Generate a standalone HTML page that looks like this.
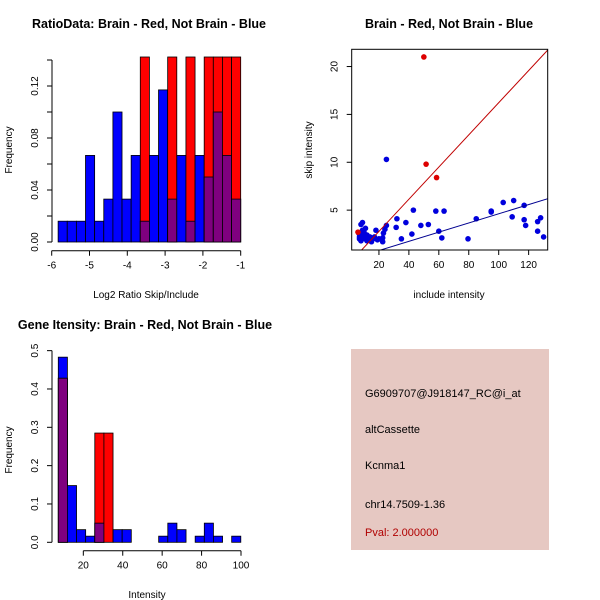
<!DOCTYPE html>
<html><head><meta charset="utf-8"><style>
html,body{margin:0;padding:0;background:#fff;}
svg{display:block;font-family:"Liberation Sans",sans-serif;}
</style></head><body>
<svg id="s" width="600" height="600" xmlns="http://www.w3.org/2000/svg">
<text x="149" y="28" font-size="12.5" font-weight="bold" text-anchor="middle">RatioData: Brain - Red, Not Brain - Blue</text>
<text x="146" y="298" font-size="10" text-anchor="middle">Log2 Ratio Skip/Include</text>
<text transform="translate(12,150) rotate(-90)" font-size="10" text-anchor="middle">Frequency</text>
<text x="449" y="28" font-size="12.5" font-weight="bold" text-anchor="middle">Brain - Red, Not Brain - Blue</text>
<text x="449" y="298" font-size="10" text-anchor="middle">include intensity</text>
<text transform="translate(312,150) rotate(-90)" font-size="10" text-anchor="middle">skip intensity</text>
<text x="145" y="329" font-size="12.5" font-weight="bold" text-anchor="middle">Gene Itensity: Brain - Red, Not Brain - Blue</text>
<text x="147" y="598" font-size="10" text-anchor="middle">Intensity</text>
<text transform="translate(12,450) rotate(-90)" font-size="10" text-anchor="middle">Frequency</text>
<rect x="351" y="349" width="198" height="201" fill="#E6C8C2"/>
<text x="365" y="397" font-size="11">G6909707@J918147_RC@i_at</text>
<text x="365" y="433" font-size="11">altCassette</text>
<text x="365" y="469" font-size="11">Kcnma1</text>
<text x="365" y="508" font-size="11">chr14.7509-1.36</text>
<text x="365" y="536" font-size="11" fill="#B00000">Pval: 2.000000</text>
<g id="g1"></g><g id="g2"></g><g id="g3"></g>
</svg>
<script>
// Ratio histogram data
const ratioBinStart = -5.83, ratioBinWidth = 0.2415;
const ratioBlue = [0.016,0.016,0.016,0.0666,0.016,0.033,0.10,0.033,0.0666,0.016,0.0666,0.117,0.033,0.0666,0.016,0.0666,0.05,0.10,0.0666,0.033];
const ratioRed  = [0,0,0,0,0,0,0,0,0,0.143,0,0,0.143,0,0.143,0,0.143,0.143,0.143,0.143];
const ratioXTicks = [-6,-5,-4,-3,-2,-1];
const ratioYTicks = [0,0.02,0.04,0.06,0.08,0.10,0.12,0.14];
const ratioYLabels = ["0.00","","0.04","","0.08","","0.12",""];
// Intensity histogram data
const intBinStart = 7.3, intBinWidth = 4.63;
const intBlue = [0.483,0.148,0.033,0.016,0.05,0,0.033,0.033,0,0,0,0.016,0.05,0.033,0,0.016,0.05,0.016,0,0.016];
const intRed  = [0.428,0,0,0,0.285,0.285,0,0,0,0,0,0,0,0,0,0,0,0,0,0];
const intXTicks = [20,40,60,80,100];
const intYTicks = [0,0.1,0.2,0.3,0.4,0.5];
const intYLabels = ["0.0","0.1","0.2","0.3","0.4","0.5"];
// Scatter data
const blueX = [25,32,31.5,38,43,42,35,48,53,58,63.5,60,62,79.5,85,95,95,103,110,109,117,117,118,126,128,126,130,25,24,23,22.5,22.5,18,17,16,15,14,13,12,11,10,9,8,9,8,7,7,8,9,10,6.5,11,12,20,19];
const blueY = [10.3,4.1,3.2,3.7,5,2.5,2,3.4,3.5,4.9,4.9,2.8,2.1,2,4.1,4.8,4.9,5.8,6,4.3,5.5,4,3.4,3.8,4.2,2.8,2.2,3.4,3,2.6,2.1,1.7,2.9,2.2,2,1.7,2.2,1.9,2.4,3.1,2.7,3.7,3.5,2.9,2.5,2.2,2.0,1.8,2.1,2.4,2.6,2.0,1.8,2.0,1.9];
const redX = [50,51.5,58.5,6];
const redY = [21,9.8,8.4,2.7];
const redFit = [0.168,-0.58];
const blueFit = [0.048,-0.18];
const scXTicks = [20,40,60,80,100,120];
const scYTicks = [5,10,15,20];

const NS="http://www.w3.org/2000/svg";
function mk(p,tag,a){const e=document.createElementNS(NS,tag);for(const k in a)e.setAttribute(k,a[k]);p.appendChild(e);return e;}

function hist(g,o){
  const {x0,y0,sx,sy,bs,bw,blue,red,xt,yt,yl,axX,axY,xlo,ylo,clipTop,prefix}=o;
  const X=v=>x0+(v-xlo)*sx, Y=v=>y0-(v-ylo)*sy;
  for(let i=0;i<blue.length;i++){
    const a=X(bs+i*bw), b=X(bs+(i+1)*bw);
    const bars=[[blue[i],'#0000FF'],[red[i],'#FF0000'],[Math.min(blue[i],red[i]),'#7F007F']];
    bars.forEach(([v,c],k)=>{ if(v<=0) return;
      const top=Math.max(Y(v),clipTop);
      const r=mk(g,'rect',{x:a,y:top,width:b-a,height:Y(0)-top,fill:c,stroke:'#000','stroke-width':0.8});
      
      
    });
  }
  mk(g,'line',{x1:X(xt[0]),x2:X(xt[xt.length-1]),y1:axX,y2:axX,stroke:'#000'});
  xt.forEach(t=>{mk(g,'line',{x1:X(t),x2:X(t),y1:axX,y2:axX+5,stroke:'#000'});
    const tx=mk(g,'text',{x:X(t),y:axX+18,'font-size':10,'text-anchor':'middle'});tx.textContent=t;
    
    });
  mk(g,'line',{x1:axY,x2:axY,y1:Y(yt[0]),y2:Y(yt[yt.length-1]),stroke:'#000'});
  yt.forEach((t,i)=>{mk(g,'line',{x1:axY-5,x2:axY,y1:Y(t),y2:Y(t),stroke:'#000'});
    if(yl[i]){const tx=mk(g,'text',{'font-size':10,'text-anchor':'middle',transform:`translate(${axY-14},${Y(t)}) rotate(-90)`});tx.textContent=yl[i];
    
    }});
}
hist(document.getElementById('g1'),{x0:51.7,y0:242,sx:37.8,sy:1300,xlo:-6,ylo:0,bs:ratioBinStart,bw:ratioBinWidth,blue:ratioBlue,red:ratioRed,xt:ratioXTicks,yt:ratioYTicks,yl:ratioYLabels,axX:250.7,axY:52,clipTop:57,prefix:'ratio'});
hist(document.getElementById('g3'),{x0:43.9,y0:542.3,sx:1.971,sy:383.3,xlo:0,ylo:0,bs:intBinStart,bw:intBinWidth,blue:intBlue,red:intRed,xt:intXTicks,yt:intYTicks,yl:intYLabels,axX:550.7,axY:52,clipTop:0,prefix:'intensity'});

// scatter
(function(){
  const g=document.getElementById('g2');
  const X=v=>349+v*1.497, Y=v=>258-v*9.573;
  const L=351.7,R=547.7,T=49.3,B=250;
  mk(g,'clipPath',{id:'cp'}).appendChild(document.createElementNS(NS,'rect'));
  const cr=g.querySelector('#cp rect');cr.setAttribute('x',L);cr.setAttribute('y',T);cr.setAttribute('width',R-L);cr.setAttribute('height',B-T);
  const inner=mk(g,'g',{'clip-path':'url(#cp)'});
  for(let i=0;i<blueX.length;i++){const c=mk(inner,'circle',{cx:X(blueX[i]),cy:Y(blueY[i]),r:2.8,fill:'#0000DD'});
    
    }
  for(let i=0;i<redX.length;i++){const c=mk(inner,'circle',{cx:X(redX[i]),cy:Y(redY[i]),r:2.8,fill:'#DD0000'});
    
    }
  const xa=0,xb=140;
  const l1=mk(inner,'line',{x1:X(xa),y1:Y(redFit[0]*xa+redFit[1]),x2:X(xb),y2:Y(redFit[0]*xb+redFit[1]),stroke:'#C00000','stroke-width':1});
  
  
  const l2=mk(inner,'line',{x1:X(xa),y1:Y(blueFit[0]*xa+blueFit[1]),x2:X(xb),y2:Y(blueFit[0]*xb+blueFit[1]),stroke:'#000090','stroke-width':1});
  
  
  const box=mk(g,'rect',{x:L,y:T,width:R-L,height:B-T,fill:'none',stroke:'#000'});
  
  
  scXTicks.forEach(t=>{mk(g,'line',{x1:X(t),x2:X(t),y1:B,y2:B+5,stroke:'#000'});
    const tx=mk(g,'text',{x:X(t),y:B+18,'font-size':10,'text-anchor':'middle'});tx.textContent=t;
    
    });
  scYTicks.forEach(t=>{mk(g,'line',{x1:L-5,x2:L,y1:Y(t),y2:Y(t),stroke:'#000'});
    const tx=mk(g,'text',{'font-size':10,'text-anchor':'middle',transform:`translate(${L-14},${Y(t)}) rotate(-90)`});tx.textContent=t;
    
    });
})();
</script>
</body></html>
